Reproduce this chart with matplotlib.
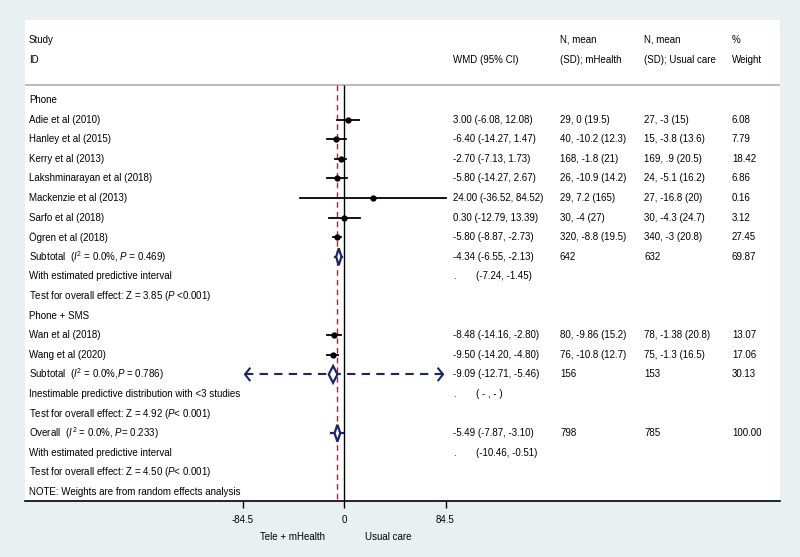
import matplotlib
matplotlib.use('Agg')
import matplotlib.pyplot as plt
from matplotlib.patches import Polygon
from matplotlib.transforms import blended_transform_factory

plt.rcParams['font.family'] = ['Liberation Sans', 'DejaVu Sans']
plt.rcParams['mathtext.fontset'] = 'custom'
plt.rcParams['mathtext.rm'] = 'Liberation Sans'
plt.rcParams['mathtext.it'] = 'Liberation Sans:italic'

# --- data ---
g1_label = 'Phone'
g1_names = ['Adie et al (2010)', 'Hanley et al (2015)', 'Kerry et al (2013)',
            'Lakshminarayan et al (2018)', 'Mackenzie et al (2013)',
            'Sarfo et al (2018)', 'Ögren et al (2018)']
g1_wmd = [3.00, -6.40, -2.70, -5.80, 24.00, 0.30, -5.80]
g1_lo = [-6.08, -14.27, -7.13, -14.27, -36.52, -12.79, -8.87]
g1_hi = [12.08, 1.47, 1.73, 2.67, 84.52, 13.39, -2.73]
g1_mh = ['29, 0 (19.5)', '40, -10.2 (12.3)', '168, -1.8 (21)', '26, -10.9 (14.2)',
         '29, 7.2 (165)', '30, -4 (27)', '320, -8.8 (19.5)']
g1_uc = ['27, -3 (15)', '15, -3.8 (13.6)', '169, .9 (20.5)', '24, -5.1 (16.2)',
         '27, -16.8 (20)', '30, -4.3 (24.7)', '340, -3 (20.8)']
g1_wt = [6.08, 7.79, 18.42, 6.86, 0.16, 3.12, 27.45]
g1_sub = [-4.34, -6.55, -2.13]
g1_pi = [-7.24, -1.45]
g1_n = [642, 632]
g1_wsum = 69.87

g2_label = 'Phone + SMS'
g2_names = ['Wan et al (2018)', 'Wang et al (2020)']
g2_wmd = [-8.48, -9.50]
g2_lo = [-14.16, -14.20]
g2_hi = [-2.80, -4.80]
g2_mh = ['80, -9.86 (15.2)', '76, -10.8 (12.7)']
g2_uc = ['78, -1.38 (20.8)', '75, -1.3 (16.5)']
g2_wt = [13.07, 17.06]
g2_sub = [-9.09, -12.71, -5.46]
g2_n = [156, 153]
g2_wsum = 30.13

overall = [-5.49, -7.87, -3.10]
overall_pi = [-10.46, -0.51]
overall_n = [798, 785]

xticks = [-84.5, 0, 84.5]

navy = '#1c2470'
dred = '#a8262c'
txt = '#000000'
fs = 7

fig = plt.figure(figsize=(8, 5.57), dpi=100, facecolor='#e8f0f2')
ax = fig.add_axes([25 / 800, 56 / 557, 755 / 800, 481 / 557])
ax.set_facecolor('white')
ppu = 101.5 / 84.5  # pixels per unit
ax.set_xlim(-319 / ppu, 436 / ppu)
ax.set_ylim(20.46, -4.08)
for s in ['top', 'left', 'right']:
    ax.spines[s].set_visible(False)
ax.spines['bottom'].set_linewidth(1.2)
ax.set_yticks([])
ax.set_xticks(xticks)
ax.set_xticklabels(['-84.5', '0', '84.5'], fontsize=fs)
ax.tick_params(axis='x', direction='out', length=5, width=1, pad=5)

tr = blended_transform_factory(ax.transAxes, ax.transData)
c_id, c_wmd, c_pi, c_mh, c_uc, c_wt = 0.0053, 0.5669, 0.597, 0.7086, 0.8199, 0.9364


def put(x, y, s, **kw):
    ax.text(x, y, s, transform=tr, fontsize=fs, va='center', ha='left', color=txt, **kw)


# headers
put(c_id, -3.06, 'Study')
put(c_id, -2.04, 'ID')
put(c_wmd, -2.04, 'WMD (95% CI)')
put(c_mh, -3.06, 'N, mean')
put(c_mh, -2.04, '(SD); mHealth')
put(c_uc, -3.06, 'N, mean')
put(c_uc, -2.04, '(SD); Usual care')
put(c_wt, -3.06, '%')
put(c_wt, -2.04, 'Weight')
ax.axhline(-0.77, color='#bdbdbd', lw=1.5)

y_bot = 20.46
ax.vlines(0, -0.77, y_bot, color='black', lw=1.0, zorder=2)
ax.vlines(overall[0], -0.77, y_bot, color=dred, lw=1.0, linestyles=(0, (4, 3)), zorder=2)


def study_rows(start, names, wmd, lo, hi, mh, uc, wt):
    for i in range(len(names)):
        r = start + i
        put(c_id, r, names[i])
        ax.plot([lo[i], hi[i]], [r, r], color='black', lw=1.3, zorder=3)
        ax.plot(wmd[i], r, 'o', color='black', ms=3.5, zorder=4)
        put(c_wmd, r, f'{wmd[i]:.2f} ({lo[i]:.2f}, {hi[i]:.2f})')
        put(c_mh, r, mh[i])
        put(c_uc, r, uc[i])
        put(c_wt, r, f'{wt[i]:.2f}')


def diamond(r, est, lo, hi, h=0.43):
    ax.add_patch(Polygon([(lo, r), (est, r - h), (hi, r), (est, r + h)], closed=True,
                         facecolor='white', edgecolor=navy, lw=1.6, zorder=5))


# group 1
put(c_id, 0, g1_label)
study_rows(1, g1_names, g1_wmd, g1_lo, g1_hi, g1_mh, g1_uc, g1_wt)
ax.plot(g1_pi, [8, 8], color=navy, lw=1.6, zorder=4)
diamond(8, *g1_sub)
put(c_id, 8, r'Subtotal  ($I^2$ = 0.0%, $P$ = 0.469)')
put(c_wmd, 8, f'{g1_sub[0]:.2f} ({g1_sub[1]:.2f}, {g1_sub[2]:.2f})')
put(c_mh, 8, str(g1_n[0]))
put(c_uc, 8, str(g1_n[1]))
put(c_wt, 8, f'{g1_wsum:.2f}')
put(c_id, 9, 'With estimated predictive interval')
put(c_wmd, 9, '.')
put(c_pi, 9, f'({g1_pi[0]:.2f}, {g1_pi[1]:.2f})')
put(c_id, 10, r'Test for overall effect: Z = 3.85 ($P$ <0.001)')

# group 2
put(c_id, 11, g2_label)
study_rows(12, g2_names, g2_wmd, g2_lo, g2_hi, g2_mh, g2_uc, g2_wt)
lim = 82.5
ax.plot([-lim, lim], [14, 14], color=navy, lw=1.5, dashes=(4, 3), zorder=4)
for sgn in (-1, 1):
    ax.plot([sgn * (lim - 4), sgn * lim, sgn * (lim - 4)], [13.7, 14, 14.3],
            color=navy, lw=1.5, zorder=4)
diamond(14, *g2_sub)
put(c_id, 14, r'Subtotal  ($I^2$ = 0.0%,$P$ = 0.786)')
put(c_wmd, 14, f'{g2_sub[0]:.2f} ({g2_sub[1]:.2f}, {g2_sub[2]:.2f})')
put(c_mh, 14, str(g2_n[0]))
put(c_uc, 14, str(g2_n[1]))
put(c_wt, 14, f'{g2_wsum:.2f}')
put(c_id, 15, 'Inestimable predictive distribution with <3 studies')
put(c_wmd, 15, '.')
put(c_pi, 15, '( - , - )')
put(c_id, 16, r'Test for overall effect: Z = 4.92 ($P$< 0.001)')

# overall
ax.plot(overall_pi, [17, 17], color=navy, lw=1.6, zorder=4)
diamond(17, *overall)
put(c_id, 17, r'Overall  ($I^2$ = 0.0%, $P$= 0.233)')
put(c_wmd, 17, f'{overall[0]:.2f} ({overall[1]:.2f}, {overall[2]:.2f})')
put(c_mh, 17, str(overall_n[0]))
put(c_uc, 17, str(overall_n[1]))
put(c_wt, 17, '100.00')
put(c_id, 18, 'With estimated predictive interval')
put(c_wmd, 18, '.')
put(c_pi, 18, f'({overall_pi[0]:.2f}, {overall_pi[1]:.2f})')
put(c_id, 19, r'Test for overall effect: Z = 4.50 ($P$< 0.001)')
put(c_id, 20, 'NOTE: Weights are from random effects analysis')

tb = blended_transform_factory(ax.transData, ax.transAxes)
ax.text(-42.5, -0.075, 'Tele + mHealth', transform=tb, fontsize=fs, ha='center', va='center', color=txt)
ax.text(36.7, -0.075, 'Usual care', transform=tb, fontsize=fs, ha='center', va='center', color=txt)

fig.savefig('out.png', dpi=100, facecolor=fig.get_facecolor())
